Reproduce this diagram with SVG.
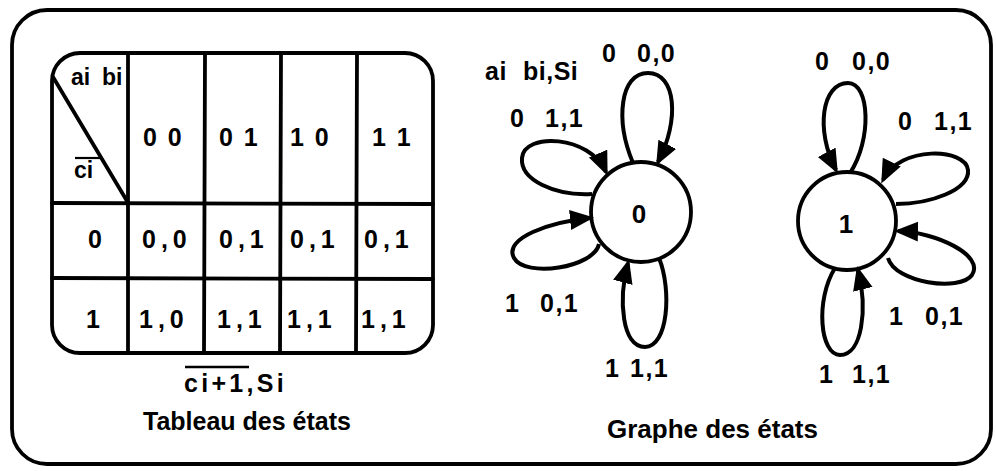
<svg xmlns="http://www.w3.org/2000/svg" width="996" height="471" viewBox="0 0 996 471">
<style>
.ln{fill:none;stroke:#000;stroke-width:3.8;stroke-linecap:round;stroke-linejoin:round}
.t{font-family:"Liberation Sans",Arial,Helvetica,sans-serif;font-weight:bold;fill:#000}
.d{font-size:25px}
.lp{stroke:#000;stroke-width:4;fill:none;marker-end:url(#ah)}
</style>
<defs>
<marker id="ah" markerUnits="userSpaceOnUse" markerWidth="28" markerHeight="24" refX="20" refY="10" orient="auto">
<path d="M0,0 L24,10 L0,20 Z" fill="#000"/>
</marker>
</defs>
<rect width="996" height="471" fill="#fff"/>
<g id="frame">
<rect x="12" y="10" width="979" height="454" rx="35" class="ln" stroke-width="3.2"/>
</g>
<g id="table">
<rect x="52" y="53" width="381" height="300" rx="28" class="ln"/>
<line x1="128" y1="53" x2="128" y2="353" class="ln"/>
<line x1="205" y1="53" x2="204" y2="353" class="ln"/>
<line x1="281" y1="53" x2="280" y2="353" class="ln"/>
<line x1="357" y1="53" x2="356" y2="353" class="ln"/>
<line x1="52" y1="203" x2="433" y2="204" class="ln"/>
<line x1="52" y1="278" x2="433" y2="279" class="ln"/>
<line x1="53" y1="77" x2="127" y2="201" class="ln"/>
<text class="t" y="85" style="font-size:23px"><tspan x="71">ai </tspan><tspan x="102">bi</tspan></text>
<text class="t" x="74" y="178" style="font-size:23px">ci</text>
<line x1="75" y1="158" x2="101" y2="158" stroke="#000" stroke-width="2.2"/>
<text class="t d" x="143" y="146" letter-spacing="2">0 0</text>
<text class="t d" x="219" y="146" letter-spacing="2">0 1</text>
<text class="t d" x="290" y="146" letter-spacing="2">1 0</text>
<text class="t d" x="372" y="146" letter-spacing="2">1 1</text>
<text class="t d" x="88" y="248">0</text>
<text class="t d" x="142" y="248" letter-spacing="5">0,0</text>
<text class="t d" x="219" y="248" letter-spacing="5">0,1</text>
<text class="t d" x="290" y="248" letter-spacing="5">0,1</text>
<text class="t d" x="364" y="248" letter-spacing="5">0,1</text>
<text class="t d" x="86" y="328">1</text>
<text class="t d" x="139" y="328" letter-spacing="5">1,0</text>
<text class="t d" x="217" y="328" letter-spacing="5">1,1</text>
<text class="t d" x="287" y="328" letter-spacing="5">1,1</text>
<text class="t d" x="361" y="328" letter-spacing="5">1,1</text>
<text class="t" x="184" y="392" style="font-size:25px" letter-spacing="3.3">ci+1,Si</text>
<line x1="185" y1="367" x2="249" y2="367" stroke="#000" stroke-width="2.5"/>
<text class="t" x="143" y="430" style="font-size:25px">Tableau des états</text>
</g>
<g id="node-0">
<circle cx="641" cy="212" r="50" class="ln"/>
<text class="t" x="639" y="223" style="font-size:26px" text-anchor="middle">0</text>
</g>
<g id="node-1">
<circle cx="847" cy="221" r="49" class="ln"/>
<text class="t" x="846" y="233" style="font-size:26px" text-anchor="middle">1</text>
</g>
<g id="connectors">
<path class="lp" d="M633,163 C615,120 620,73 648,73 C676,73 680,120 658,162"/>
<path class="lp" d="M592,194 C555,196 520,180 522,158 C524,132 590,135 606,172"/>
<path class="lp" d="M599,244 C594,268 525,278 514,258 C503,238 550,222 590,218"/>
<path class="lp" d="M659,258 C672,290 668,347 645,347 C622,347 618,300 628,263"/>
<path class="lp" d="M850,173 C872,140 870,83 848,83 C822,83 815,130 836,170"/>
<path class="lp" d="M896,204 C930,204 970,190 968,170 C966,148 900,145 883,180"/>
<path class="lp" d="M888,258 C895,283 960,292 972,275 C985,255 935,232 898,231"/>
<path class="lp" d="M835,268 C815,300 820,355 840,355 C862,355 868,310 858,270"/>
</g>
<g id="labels">
<text class="t d" y="80" letter-spacing="0.5"><tspan x="485">ai </tspan><tspan x="523">bi,Si</tspan></text>
<text class="t d" y="62" letter-spacing="1.5"><tspan x="602">0 </tspan><tspan x="637">0,0</tspan></text>
<text class="t d" y="127" letter-spacing="1.5"><tspan x="510">0 </tspan><tspan x="545">1,1</tspan></text>
<text class="t d" y="312" letter-spacing="1.5"><tspan x="505">1 </tspan><tspan x="540">0,1</tspan></text>
<text class="t d" y="377" letter-spacing="1.5"><tspan x="605">1 </tspan><tspan x="630">1,1</tspan></text>
<text class="t d" y="70" letter-spacing="1.5"><tspan x="815">0 </tspan><tspan x="852">0,0</tspan></text>
<text class="t d" y="130" letter-spacing="1.5"><tspan x="898">0 </tspan><tspan x="934">1,1</tspan></text>
<text class="t d" y="325" letter-spacing="1.5"><tspan x="889">1 </tspan><tspan x="925">0,1</tspan></text>
<text class="t d" y="383" letter-spacing="1.5"><tspan x="819">1 </tspan><tspan x="852">1,1</tspan></text>
<text class="t" x="607" y="438" style="font-size:26px">Graphe des états</text>
</g>
</svg>
